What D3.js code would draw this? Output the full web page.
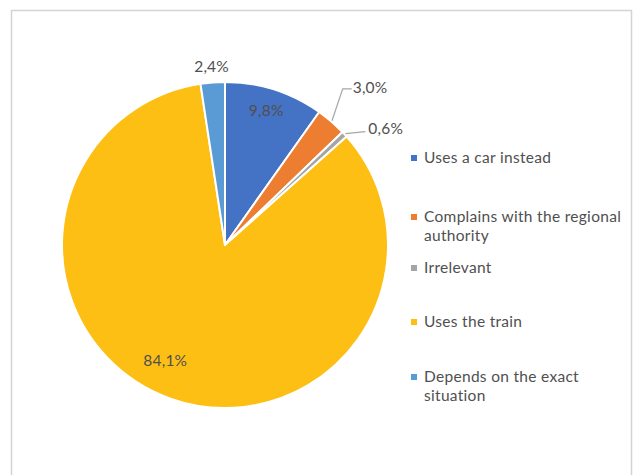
<!DOCTYPE html>
<html>
<head>
<meta charset="utf-8">
<script src="https://cdn.jsdelivr.net/npm/d3@7"></script>
<style>
  html, body { margin: 0; padding: 0; background: #ffffff; }
  svg { display: block; }
  text { font-family: Lato, "Open Sans", sans-serif; }
</style>
</head>
<body>
<svg id="chart" width="634" height="475"></svg>
<script>
// Survey answers, clockwise from 12 o'clock
const categories = [
  "Uses a car instead",
  "Complains with the regional authority",
  "Irrelevant",
  "Uses the train",
  "Depends on the exact situation"
];
const shares = [9.8, 3.0, 0.6, 84.1, 2.4];
const valueLabels = ["9,8%", "3,0%", "0,6%", "84,1%", "2,4%"];
const legendLines = [
  ["Uses a car instead"],
  ["Complains with the regional", "authority"],
  ["Irrelevant"],
  ["Uses the train"],
  ["Depends on the exact", "situation"]
];
const colors = ["#4472C4", "#ED7D31", "#A5A5A5", "#FDBF14", "#5B9BD5"];

const svg = d3.select("#chart");
const W = 634, H = 475;
const textColor = "#505050";

// Frame around the chart area (open at the bottom)
svg.append("path")
  .attr("d", `M11.5,${H} V10.5 H631.5 V${H}`)
  .attr("fill", "none")
  .attr("stroke", "#d4d4d4")
  .attr("stroke-width", 1.5);

const cx = 225, cy = 245, R = 163;
const g = svg.append("g").attr("transform", `translate(${cx},${cy})`);

const pie = d3.pie().sort(null).value(d => d.v).startAngle(0).endAngle(2 * Math.PI);
const data = categories.map((c, i) => ({ c, v: shares[i], label: valueLabels[i], color: colors[i] }));
const arcs = pie(data);
const arc = d3.arc().innerRadius(0).outerRadius(R);

g.selectAll("path.slice")
  .data(arcs)
  .join("path")
  .attr("class", "slice")
  .attr("d", arc)
  .attr("fill", d => d.data.color)
  .attr("stroke", "#ffffff")
  .attr("stroke-width", 2)
  .attr("stroke-linejoin", "round");

// Polar helper: angle measured clockwise from 12 o'clock
const polar = (a, r) => [r * Math.sin(a), -r * Math.cos(a)];
const mid = d => (d.startAngle + d.endAngle) / 2;

// Label placement: radius factor, angle shift (rad), optional leader
const labelPlacement = [
  { rf: 0.86, da: -0.01 },
  { leader: { elbowRf: 1.20, elbowDa: -0.065, tail: 9 } },
  { leader: { tail: 20, straight: true } },
  { rf: 0.80, da: 0.13 },
  { rf: 1.095, da: 0 }
];

const labelFont = 15.5;
const addLabel = (x, y, txt, anchor) =>
  g.append("text")
    .attr("x", x).attr("y", y)
    .attr("dy", "0.35em")
    .attr("text-anchor", anchor)
    .attr("font-size", labelFont)
    .attr("letter-spacing", 0.2)
    .attr("fill", textColor)
    .text(txt);

arcs.forEach((d, i) => {
  const p = labelPlacement[i];
  const a = mid(d);
  if (p.leader) {
    const start = polar(a, R + 1);
    let pts;
    if (p.leader.straight) {
      const end = [start[0] + p.leader.tail, start[1] - 2];
      pts = [start, end];
      addLabel(end[0] + 3, end[1] - 3, d.data.label, "start");
    } else {
      const elbow = polar(a + p.leader.elbowDa, R * p.leader.elbowRf);
      const end = [elbow[0] + p.leader.tail, elbow[1]];
      pts = [start, elbow, end];
      addLabel(end[0] + 1, end[1] - 1, d.data.label, "start");
    }
    g.append("polyline")
      .attr("points", pts.map(q => q.join(",")).join(" "))
      .attr("fill", "none").attr("stroke", "#a6a6a6").attr("stroke-width", 1.2);
  } else {
    const [x, y] = polar(a + p.da, R * p.rf);
    addLabel(x, y, d.data.label, "middle");
  }
});

// Legend on the right
const legendBaselines = [163, 222, 273, 327, 382];
const lineGap = 19;
const legend = svg.append("g");
legendLines.forEach((lines, i) => {
  const y0 = legendBaselines[i];
  legend.append("rect")
    .attr("x", 411).attr("y", y0 - 8)
    .attr("width", 6).attr("height", 6)
    .attr("fill", colors[i]);
  lines.forEach((t, j) => {
    legend.append("text")
      .attr("x", 424).attr("y", y0 + j * lineGap)
      .attr("font-size", 15.5)
      .attr("letter-spacing", 0.3)
      .attr("fill", textColor)
      .text(t);
  });
});
</script>
</body>
</html>
